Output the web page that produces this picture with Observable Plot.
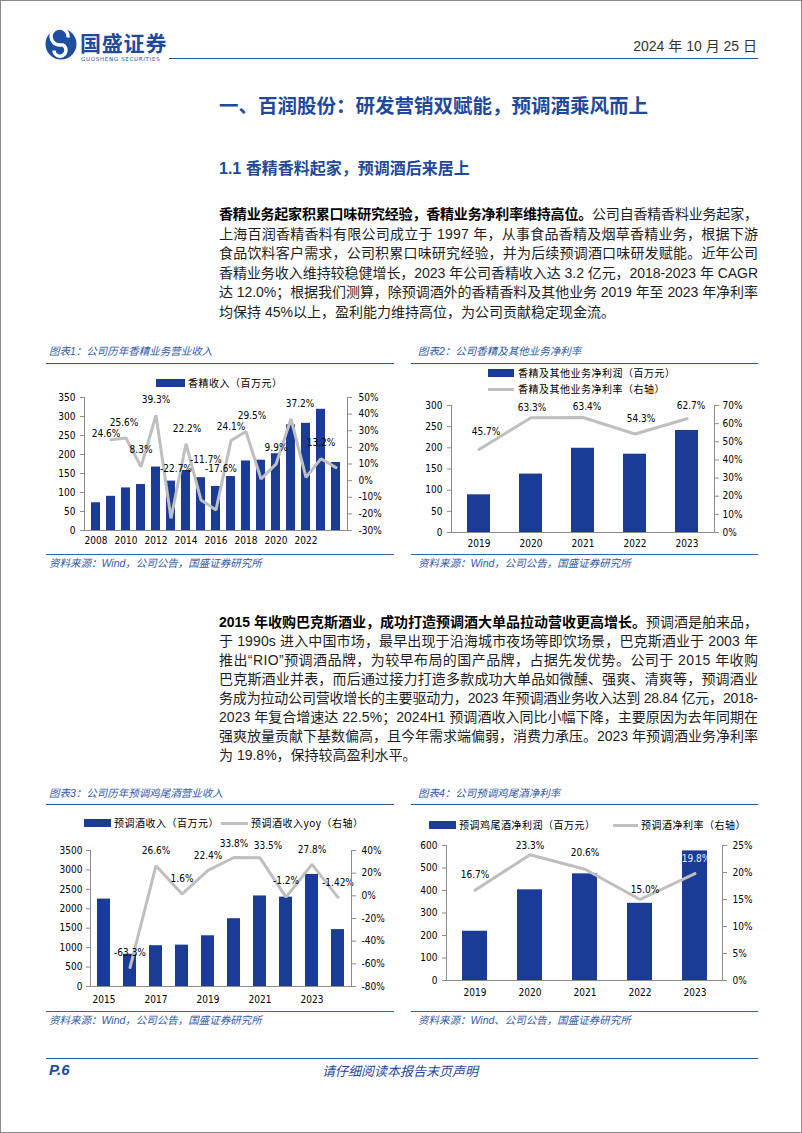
<!DOCTYPE html>
<html><head><meta charset="utf-8">
<script src="https://cdn.jsdelivr.net/npm/d3@7"></script>
<script src="https://cdn.jsdelivr.net/npm/@observablehq/plot@0.6"></script>
<style>
body{margin:0;background:#fff;}
#page{position:relative;width:802px;height:1133px;box-sizing:border-box;border:1px solid #8a8a8a;overflow:hidden;font-family:"Liberation Sans","Noto Sans CJK SC",sans-serif;color:#1e1e1e;}
.abs{position:absolute;white-space:nowrap;}
.jl{position:absolute;left:218px;width:539px;height:20px;line-height:20px;font-size:14px;white-space:nowrap;}
.jl b{font-weight:bold;color:#000;}
.ctitle{position:absolute;font-size:10.5px;line-height:16px;font-style:italic;color:#2f5aa8;white-space:nowrap;}
.rule{position:absolute;height:0;border-top:1.5px solid #2f5597;}
.rule.thin{border-top:1.2px solid #3a62aa;}
.leg{position:absolute;font-size:10px;letter-spacing:0.5px;line-height:12px;color:#000;white-space:nowrap;font-family:"Noto Sans CJK SC",sans-serif;}
.sw{position:absolute;height:8px;background:#1b3c96;}
.ln{position:absolute;height:3px;background:#bfbfbf;}
.chart{position:absolute;}
</style>
</head><body>
<div id="page">
  <!-- header -->
  <svg class="abs" style="left:44px;top:27px" width="34" height="34" viewBox="0 0 34 34">
    <circle cx="16" cy="16" r="15.5" fill="#1d4fa0"/>
    <path d="M23 9.5 A8.5 8.5 0 1 0 14.5 17 L18 17 A6 6 0 1 1 9 22.5" fill="none" stroke="#fff" stroke-width="3.4"/>
  </svg>
  <div class="abs" style="left:79px;top:29px;font-size:21px;line-height:24px;font-weight:bold;letter-spacing:0.8px;color:#1f4a9b;font-family:'Noto Sans CJK SC',sans-serif">国盛证券</div>
  <div class="abs" style="left:80px;top:55px;font-size:5.5px;line-height:6px;letter-spacing:0.7px;color:#1f4a9b;font-family:'DejaVu Sans',sans-serif">GUOSHENG SECURITIES</div>
  <div class="abs" style="right:44px;top:36px;font-size:14px;line-height:18px;color:#333">2024 年 10 月 25 日</div>
  <div class="rule" style="left:168px;top:57px;width:589px"></div>

  <div class="abs" style="left:218px;top:91px;font-size:19.5px;line-height:26px;font-weight:bold;color:#1f4a9b;font-family:'Noto Sans CJK SC',sans-serif">一、百润股份：研发营销双赋能，预调酒乘风而上</div>
  <div class="abs" style="left:218px;top:157px;font-size:16px;line-height:22px;font-weight:bold;color:#1f4a9b">1.1 香精香料起家，预调酒后来居上</div>

  <!-- paragraph 1 -->
  <div class="jl" style="top:203px"><span><b>香精业务起家积累口味研究经验，香精业务净利率维持高位。</b>公司自香精香料业务起家，</span></div>
  <div class="jl" style="top:222.5px"><span>上海百润香精香料有限公司成立于 1997 年，从事食品香精及烟草香精业务，根据下游</span></div>
  <div class="jl" style="top:242px"><span>食品饮料客户需求，公司积累口味研究经验，并为后续预调酒口味研发赋能。近年公司</span></div>
  <div class="jl" style="top:261.5px"><span>香精业务收入维持较稳健增长，2023 年公司香精收入达 3.2 亿元，2018-2023 年 CAGR</span></div>
  <div class="jl" style="top:281px"><span>达 12.0%；根据我们测算，除预调酒外的香精香料及其他业务 2019 年至 2023 年净利率</span></div>
  <div class="jl last" style="top:300.5px"><span>均保持 45%以上，盈利能力维持高位，为公司贡献稳定现金流。</span></div>

  <!-- chart 1 & 2 frames -->
  <div class="ctitle" style="left:48px;top:342px">图表1：公司历年香精业务营业收入</div>
  <div class="rule" style="left:45px;top:362px;width:348px"></div>
  <div class="ctitle" style="left:417px;top:342px">图表2：公司香精及其他业务净利率</div>
  <div class="rule" style="left:410px;top:362px;width:347px"></div>

  <div class="sw" style="left:155px;top:378px;width:29px"></div>
  <div class="leg" style="left:187px;top:376px">香精收入（百万元）</div>

  <div class="sw" style="left:487px;top:368px;width:26px"></div>
  <div class="leg" style="left:517px;top:366px">香精及其他业务净利润（百万元）</div>
  <div class="ln" style="left:487px;top:387px;width:26px"></div>
  <div class="leg" style="left:517px;top:382px">香精及其他业务净利率（右轴）</div>

  <div class="chart" id="c1" style="left:45px;top:388px"></div>
  <div class="chart" id="c2" style="left:410px;top:396px"></div>

  <div class="rule thin" style="left:45px;top:553px;width:348px"></div>
  <div class="ctitle" style="left:48px;top:554px">资料来源：Wind，公司公告，国盛证券研究所</div>
  <div class="rule thin" style="left:410px;top:553px;width:347px"></div>
  <div class="ctitle" style="left:417px;top:554px">资料来源：Wind，公司公告，国盛证券研究所</div>

  <!-- paragraph 2 -->
  <div class="jl" style="top:611px"><span><b>2015 年收购巴克斯酒业，成功打造预调酒大单品拉动营收更高增长。</b>预调酒是舶来品，</span></div>
  <div class="jl" style="top:630px"><span>于 1990s 进入中国市场，最早出现于沿海城市夜场等即饮场景，巴克斯酒业于 2003 年</span></div>
  <div class="jl" style="top:649px"><span>推出“RIO”预调酒品牌，为较早布局的国产品牌，占据先发优势。公司于 2015 年收购</span></div>
  <div class="jl" style="top:668px"><span>巴克斯酒业并表，而后通过接力打造多款成功大单品如微醺、强爽、清爽等，预调酒业</span></div>
  <div class="jl" style="top:687px"><span>务成为拉动公司营收增长的主要驱动力，2023 年预调酒业务收入达到 28.84 亿元，2018-</span></div>
  <div class="jl" style="top:706px"><span>2023 年复合增速达 22.5%；2024H1 预调酒收入同比小幅下降，主要原因为去年同期在</span></div>
  <div class="jl" style="top:725px"><span>强爽放量贡献下基数偏高，且今年需求端偏弱，消费力承压。2023 年预调酒业务净利率</span></div>
  <div class="jl last" style="top:744px"><span>为 19.8%，保持较高盈利水平。</span></div>

  <!-- chart 3 & 4 frames -->
  <div class="ctitle" style="left:48px;top:784px">图表3：公司历年预调鸡尾酒营业收入</div>
  <div class="rule" style="left:45px;top:803px;width:348px"></div>
  <div class="ctitle" style="left:417px;top:784px">图表4：公司预调鸡尾酒净利率</div>
  <div class="rule" style="left:410px;top:803px;width:347px"></div>

  <div class="sw" style="left:83px;top:818px;width:27px"></div>
  <div class="leg" style="left:113px;top:816px">预调酒收入（百万元）</div>
  <div class="ln" style="left:220px;top:821px;width:27px"></div>
  <div class="leg" style="left:250px;top:816px">预调酒收入yoy（右轴）</div>

  <div class="sw" style="left:428px;top:820px;width:27px"></div>
  <div class="leg" style="left:458px;top:818px">预调鸡尾酒净利润（百万元）</div>
  <div class="ln" style="left:612px;top:823px;width:25px"></div>
  <div class="leg" style="left:640px;top:818px">预调酒净利率（右轴）</div>

  <div class="chart" id="c3" style="left:45px;top:840px"></div>
  <div class="chart" id="c4" style="left:410px;top:836px"></div>

  <div class="rule thin" style="left:45px;top:1010px;width:348px"></div>
  <div class="ctitle" style="left:48px;top:1011px">资料来源：Wind，公司公告，国盛证券研究所</div>
  <div class="rule thin" style="left:410px;top:1010px;width:347px"></div>
  <div class="ctitle" style="left:417px;top:1011px">资料来源：Wind、公司公告，国盛证券研究所</div>

  <!-- footer -->
  <div class="rule" style="left:45px;top:1057px;width:712px"></div>
  <div class="abs" style="left:48px;top:1060px;font-size:15px;line-height:18px;font-weight:bold;font-style:italic;color:#1f4a9b">P.6</div>
  <div class="abs" style="left:321px;top:1061px;font-size:13px;line-height:17px;font-style:italic;color:#1f4a9b;font-family:'Noto Sans CJK SC',sans-serif">请仔细阅读本报告末页声明</div>
</div>

<script>
// ---------------- data ----------------
// Chart 1: flavor & fragrance revenue (RMB mn) and yoy (%)
const years1 = [2008,2009,2010,2011,2012,2013,2014,2015,2016,2017,2018,2019,2020,2021,2022,2023,2024];
const revenue1 = [73,90,112,121,167,130,158,139,116,142,183,185,202,278,282,319,179];
const yoyYears1 = [2009,2010,2011,2012,2013,2014,2015,2016,2017,2018,2019,2020,2021,2022,2023,2024];
const yoy1 = [24.6,25.6,8.3,39.3,-22.7,22.2,-11.7,-17.6,24.1,29.5,1.0,9.9,37.2,2.0,13.2,7.8];
const yoyLabels1 = ["24.6%","25.6%","8.3%","39.3%","-22.7%","22.2%","-11.7%","-17.6%","24.1%","29.5%",null,"9.9%","37.2%",null,"13.2%",null];
const xTicks1 = [2008,2010,2012,2014,2016,2018,2020,2022];
const leftTicks1 = [0,50,100,150,200,250,300,350];
const rightTicks1 = [-30,-20,-10,0,10,20,30,40,50];

// Chart 2: flavor & other business net profit (RMB mn) and net margin (%)
const years2 = [2019,2020,2021,2022,2023];
const profit2 = [89,138,199,185,241];
const margin2 = [45.7,63.3,63.4,54.3,62.7];
const marginLabels2 = ["45.7%","63.3%","63.4%","54.3%","62.7%"];
const leftTicks2 = [0,50,100,150,200,250,300];
const rightTicks2 = [0,10,20,30,40,50,60,70];

// Chart 3: RTD cocktail revenue (RMB mn) and yoy (%)
const years3 = [2015,2016,2017,2018,2019,2020,2021,2022,2023,2024];
const revenue3 = [2250,830,1050,1065,1305,1745,2330,2300,2884,1465];
const yoyYears3 = [2016,2017,2018,2019,2020,2021,2022,2023,2024];
const yoy3 = [-63.3,26.6,1.6,22.4,33.8,33.5,-1.2,27.8,-1.42];
const yoyLabels3 = ["-63.3%","26.6%","1.6%","22.4%","33.8%","33.5%","-1.2%","27.8%","-1.42%"];
const xTicks3 = [2015,2017,2019,2021,2023];
const leftTicks3 = [0,500,1000,1500,2000,2500,3000,3500];
const rightTicks3 = [-80,-60,-40,-20,0,20,40];

// Chart 4: RTD cocktail net profit (RMB mn) and net margin (%)
const years4 = [2019,2020,2021,2022,2023];
const profit4 = [219,403,474,343,576];
const margin4 = [16.7,23.3,20.6,15.0,19.8];
const marginLabels4 = ["16.7%","23.3%","20.6%","15.0%","19.8%"];
const leftTicks4 = [0,100,200,300,400,500,600];
const rightTicks4 = [0,5,10,15,20,25];

// ---------------- drawing ----------------
const BLUE = "#1b3c96", GRAY = "#bfbfbf", AX = "#8c8c8c";
const FONT = "'DejaVu Sans Condensed','DejaVu Sans',sans-serif";

function dual(c) {
  const toLeft = d3.scaleLinear(c.rightDomain, c.leftDomain);
  const bars = c.years.map((year, i) => ({year, v: c.values[i]}));
  const pts = c.lineYears.map((year, i) => ({year, r: c.rates[i], y: toLeft(c.rates[i]), label: c.labels[i]}));
  const labelMarks = pts.filter(d => d.label != null).map(d => {
    const [dx, dy] = (c.nudge[d.year] || c.defaultNudge);
    return Plot.text([d], {x: "year", y: "y", text: "label", dx, dy,
      fill: (c.labelFill && c.labelFill[d.year]) || "#000", fontSize: 10});
  });
  return Plot.plot({
    width: c.width, height: c.height,
    marginLeft: c.ml, marginRight: c.mr, marginTop: c.mt, marginBottom: c.mb,
    style: {background: "transparent", fontFamily: FONT, fontSize: "10px", color: "#000", overflow: "visible"},
    x: {type: "band", domain: c.years, paddingInner: c.pad, paddingOuter: c.pad / 2},
    y: {domain: c.leftDomain},
    marks: [
      Plot.barY(bars, {x: "year", y: "v", fill: BLUE}),
      Plot.line(pts, {x: "year", y: "y", stroke: GRAY, strokeWidth: 3, strokeLinejoin: "miter"}),
      ...labelMarks,
      Plot.frame({anchor: "left", stroke: AX}),
      Plot.frame({anchor: "right", stroke: AX}),
      Plot.frame({anchor: "bottom", stroke: AX}),
      Plot.axisY(c.leftTicks, {anchor: "left", tickSize: 4, tickPadding: c.lp, stroke: AX, fill: "#000", fontSize: 10, label: null,
        tickFormat: v => String(v)}),
      Plot.axisY(c.rightTicks.map(toLeft), {anchor: "right", tickSize: 4, tickPadding: c.rp, stroke: AX, fill: "#000", fontSize: 10, label: null,
        tickFormat: v => Math.round(toLeft.invert(v)) + "%"}),
      Plot.axisX(c.xTicks, {anchor: "bottom", tickSize: 0, tickPadding: c.bp, fill: "#000", fontSize: 10, label: null,
        tickFormat: v => String(v)})
    ]
  });
}

document.getElementById("c1").append(dual({
  years: years1, values: revenue1, lineYears: yoyYears1, rates: yoy1, labels: yoyLabels1,
  leftDomain: [0, 350], rightDomain: [-30, 50], leftTicks: leftTicks1, rightTicks: rightTicks1, xTicks: xTicks1,
  width: 348, height: 162, ml: 38, mr: 47, mt: 8, mb: 21, pad: 0.42, lp: 5, rp: 7, bp: 6,
  defaultNudge: [0, -15],
  nudge: {2009: [-5, -6], 2010: [-2, -15], 2011: [0, -17], 2013: [5, -50], 2014: [1, -15], 2015: [5, -40], 2016: [5, -41],
          2017: [0, -14], 2018: [6, -16], 2020: [0, -16], 2021: [9, -15], 2023: [0, -16]}
}));

document.getElementById("c2").append(dual({
  years: years2, values: profit2, lineYears: years2, rates: margin2, labels: marginLabels2,
  leftDomain: [0, 300], rightDomain: [0, 70], leftTicks: leftTicks2, rightTicks: rightTicks2, xTicks: years2,
  width: 347, height: 157, ml: 40, mr: 44, mt: 8, mb: 22, pad: 0.56, lp: 5, rp: 4, bp: 7,
  defaultNudge: [4, -13],
  nudge: {2019: [7, -18], 2020: [1, -10], 2021: [4, -11], 2022: [6, -15]}
}));

document.getElementById("c3").append(dual({
  years: years3, values: revenue3, lineYears: yoyYears3, rates: yoy3, labels: yoyLabels3,
  leftDomain: [0, 3500], rightDomain: [-80, 40], leftTicks: leftTicks3, rightTicks: rightTicks3, xTicks: xTicks3,
  width: 348, height: 168, ml: 44, mr: 43, mt: 9, mb: 23, pad: 0.5, lp: 4, rp: 6, bp: 9,
  defaultNudge: [0, -15],
  nudge: {2020: [0, -14], 2021: [8, -12], 2022: [0, -16]}
}));

document.getElementById("c4").append(dual({
  years: years4, values: profit4, lineYears: years4, rates: margin4, labels: marginLabels4,
  leftDomain: [0, 600], rightDomain: [0, 25], leftTicks: leftTicks4, rightTicks: rightTicks4, xTicks: years4,
  width: 347, height: 166, ml: 35, mr: 36, mt: 8, mb: 23, pad: 0.55, lp: 5, rp: 6, bp: 8,
  defaultNudge: [0, -15],
  nudge: {2019: [0, -16], 2020: [0, -9], 2021: [0, -16], 2022: [5, -10], 2023: [1, -15]},
  labelFill: {2023: "#e8eef8"}
}));

// justify each paragraph line to the text block width
function justify() {
  document.querySelectorAll(".jl:not(.last)").forEach(el => {
    const span = el.firstElementChild;
    span.style.letterSpacing = "0px";
    const w = span.getBoundingClientRect().width;
    const n = [...span.textContent].length;
    span.style.letterSpacing = ((539 - w) / (n - 1)) + "px";
  });
}
justify();
if (document.fonts && document.fonts.ready) document.fonts.ready.then(justify);
</script>
</body></html>
